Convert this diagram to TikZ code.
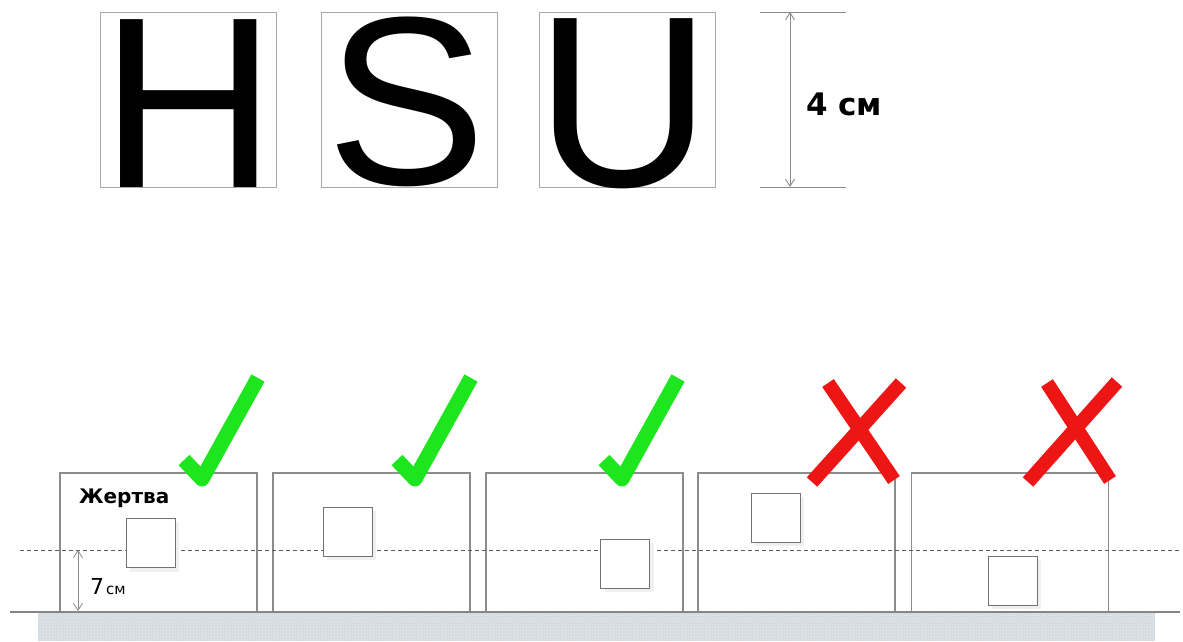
\documentclass[tikz,border=0pt]{standalone}
\usepackage{fontspec}
\setmainfont{Liberation Sans}
\newfontfamily\dejavu{DejaVu Sans}
\usetikzlibrary{arrows.meta,patterns}
\definecolor{lboxgray}{HTML}{A8A8A8}
\definecolor{boxgray}{HTML}{8C8C8C}
\definecolor{sqgray}{HTML}{727272}
\definecolor{groundfill}{HTML}{D3DBE1}
\definecolor{groundline}{HTML}{858585}
\definecolor{okgreen}{HTML}{1EE61E}
\definecolor{badred}{HTML}{EE1515}
\definecolor{dimgray}{HTML}{8A8A8A}
\tikzset{
  lbox/.style={draw=lboxgray, line width=0.9pt, minimum width=176pt, minimum height=175pt, inner sep=0pt},
  bigletter/.style={anchor=base, inner sep=0pt, font=\fontsize{244}{244}\selectfont},
  scenebox/.style={draw=boxgray, line width=1.2pt, minimum width=197pt, minimum height=139pt, inner sep=0pt},
  target/.style={draw=sqgray, line width=1pt, fill=white, minimum width=49pt, minimum height=49pt, inner sep=0pt},
  tshadow/.style={fill=black!6, minimum width=49pt, minimum height=49pt, inner sep=0pt},
  dimline/.style={draw=dimgray, line width=0.9pt},
  dimarrow/.style={draw=dimgray, line width=0.9pt, {Straight Barb[length=7pt,width=9pt]}-{Straight Barb[length=7pt,width=9pt]}},
  checkmark/.style={draw=okgreen, line width=15pt, line join=round},
  crossmark/.style={draw=badred, line width=14pt},
}
\begin{document}
\begin{tikzpicture}[x=1pt,y=-1pt]
\useasboundingbox (0,0) rectangle (1183,641);
% top letters
\node[lbox] (bH) at (188,99.5) {};
\node[lbox] (bS) at (409,99.5) {};
\node[lbox] (bU) at (627,99.5) {};
\node[bigletter] (H) at (188.5,187) {H};
\node[bigletter, font=\fontsize{240}{240}\selectfont] (S) at (407,184) {S};
\node[bigletter] (U) at (624,186) {U};
% dimension
\coordinate (dta) at (760,12);
\coordinate (dtb) at (846,12);
\coordinate (dba) at (760,187);
\coordinate (dbb) at (846,187);
\coordinate (dt) at (790,12);
\coordinate (db) at (790,187);
\draw[dimline] (dta) -- (dtb);
\draw[dimline] (dba) -- (dbb);
\draw[dimarrow] (dt) -- (db);
\node[anchor=west, inner sep=0pt, font=\dejavu\bfseries\fontsize{31}{31}\selectfont] (four) at (806,104) {4 см};
% ground
\fill[groundfill] (38,613) rectangle (1155,641);
\fill[pattern=crosshatch dots, pattern color=white!60!groundfill] (38,613) rectangle (1155,641);
% scene boxes
\node[scenebox] (s1) at (158.5,542.5) {};
\node[scenebox] (s2) at (371.5,542.5) {};
\node[scenebox] (s3) at (584.5,542.5) {};
\node[scenebox] (s4) at (796.5,542.5) {};
\node[scenebox] (s5) at (1010,542.5) {};
% reference level
\coordinate (dl) at (20,550);
\coordinate (dr) at (1180,550);
\draw[draw=black!65, line width=0.8pt, dash pattern=on 4pt off 3pt] (dl) -- (dr);
% shadows and targets
\node[tshadow] at (154.5,547) {};
\node[tshadow] at (351.5,535.5) {};
\node[tshadow] at (629,567.5) {};
\node[tshadow] at (779.5,521.5) {};
\node[tshadow] at (1016.5,584.5) {};
\node[target] (t1) at (150.5,543) {};
\node[target] (t2) at (347.5,531.5) {};
\node[target] (t3) at (625,563.5) {};
\node[target] (t4) at (775.5,517.5) {};
\node[target] (t5) at (1012.5,580.5) {};
% ground line
\coordinate (gl) at (10,612);
\coordinate (gr) at (1180,612);
\draw[draw=groundline, line width=2.2pt] (gl) -- (gr);
% label and 7 cm
\node[anchor=base west, inner sep=0pt, font=\dejavu\bfseries\fontsize{20}{20}\selectfont] (victim) at (79,503) {Жертва};
\coordinate (sa) at (78,550);
\coordinate (sb) at (78,611);
\draw[dimarrow, line width=0.8pt] (sa) -- (sb);
\node[anchor=base west, inner sep=0pt, font=\dejavu\fontsize{22}{22}\selectfont] (seven) at (90,594) {7};
\node[anchor=base west, inner sep=0pt, font=\dejavu\fontsize{15}{15}\selectfont] (cm) at (106,594) {см};
% checks
\draw[checkmark] (184,460) -- (202,479) -- (258,378);
\draw[checkmark] (397,460) -- (415,479) -- (471,378);
\draw[checkmark] (604,460) -- (622,479) -- (678,378);
% crosses
\draw[crossmark] (828,383) -- (894,480);
\draw[crossmark] (901,383) -- (812,482);
\draw[crossmark] (1047,383) -- (1110,480);
\draw[crossmark] (1117,382) -- (1028,482);
\end{tikzpicture}
\end{document}
